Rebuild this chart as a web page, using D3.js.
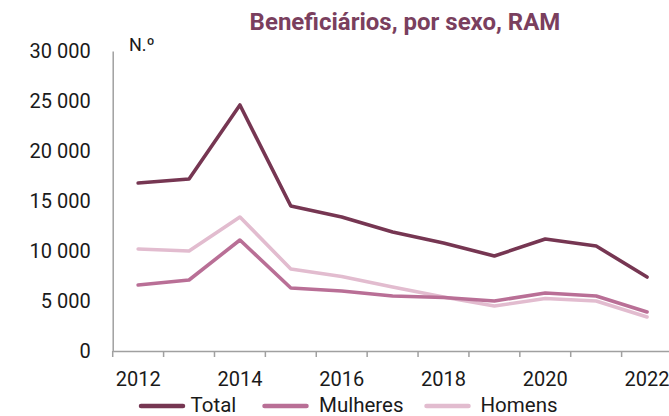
<!DOCTYPE html>
<html><head><meta charset="utf-8">
<script src="https://cdn.jsdelivr.net/npm/d3@7/dist/d3.min.js"></script>
<style>body{margin:0;background:#fff}svg{display:block;font-family:Roboto,"Noto Sans",sans-serif}</style>
</head><body><div id="chart"></div>
<script>
const years = ["2012","2013","2014","2015","2016","2017","2018","2019","2020","2021","2022"];
const total    = [16800,17200,24600,14500,13400,11900,10800,9500,11200,10500,7400];
const mulheres = [6600,7100,11100,6300,6000,5500,5350,5000,5800,5500,3900];
const homens   = [10200,10000,13400,8200,7450,6400,5400,4500,5250,5000,3400];
const yTicks = [0,5000,10000,15000,20000,25000,30000];
const xLabels = ["2012","2014","2016","2018","2020","2022"];
const seriesNames = ["Total","Mulheres","Homens"];
const colors = ["#763652","#b96f96","#e2bccf"];
const seriesData = [total, mulheres, homens];

const W = 669, H = 416;
const svg = d3.select("#chart").append("svg").attr("width", W).attr("height", H);
const x = d3.scaleBand().domain(years).range([112.7, 672.5]);
const y = d3.scaleLinear().domain([0, 30000]).range([351, 51]);
const fmt = v => d3.format(",")(v).replace(/,/g, " ");

// y axis
const yAxis = svg.append("g").attr("transform", "translate(112.7,0)")
  .call(d3.axisLeft(y).tickValues(yTicks).tickSize(0).tickPadding(22).tickFormat(fmt));
yAxis.select(".domain").attr("stroke", "#a0a0a0").attr("stroke-width", 1.5);
yAxis.selectAll("text").attr("font-size", 20).attr("fill", "#1a1a1a").attr("font-family", "Roboto");

// x axis
const xAxis = svg.append("g").attr("transform", "translate(0,351)")
  .call(d3.axisBottom(x).tickSize(0).tickFormat(d => xLabels.includes(d) ? d : ""));
xAxis.select(".domain").attr("stroke", "#a0a0a0").attr("stroke-width", 1.5);
xAxis.selectAll("text").attr("font-size", 20).attr("fill", "#1a1a1a").attr("dy", 0).attr("y", 35).attr("font-family", "Roboto");
// category boundary ticks
svg.append("g").selectAll("line").data(years).join("line")
  .attr("x1", d => x(d)).attr("x2", d => x(d))
  .attr("y1", 351).attr("y2", 357)
  .attr("stroke", "#a0a0a0").attr("stroke-width", 1.5);

// lines
const line = d3.line().x((d, i) => x(years[i]) + x.bandwidth() / 2).y(d => y(d));
[2, 1, 0].forEach(k => {
  svg.append("path").datum(seriesData[k]).attr("d", line)
    .attr("fill", "none").attr("stroke", colors[k]).attr("stroke-width", 3.6)
    .attr("stroke-linejoin", "round").attr("stroke-linecap", "round");
});

// title
svg.append("text").attr("x", 405).attr("y", 29.5).attr("text-anchor", "middle")
  .attr("font-size", 24).attr("font-weight", "bold").attr("fill", "#7a3f5e")
  .text("Beneficiários, por sexo, RAM");
// unit
svg.append("text").attr("x", 129).attr("y", 51).attr("font-size", 18).attr("fill", "#1a1a1a").text("N.º");

// legend
const legX = [141, 264.5, 426.5];
const legTX = [190.5, 319, 480.5];
seriesNames.forEach((n, i) => {
  const g = svg.append("g");
  g.append("line").attr("x1", legX[i]).attr("x2", legX[i] + 42).attr("y1", 406).attr("y2", 406)
    .attr("stroke", colors[i]).attr("stroke-width", 4.5).attr("stroke-linecap", "round");
  g.append("text").attr("x", legTX[i]).attr("y", 412).attr("font-size", 20.5).attr("fill", "#1a1a1a").text(n);
});
</script></body></html>
